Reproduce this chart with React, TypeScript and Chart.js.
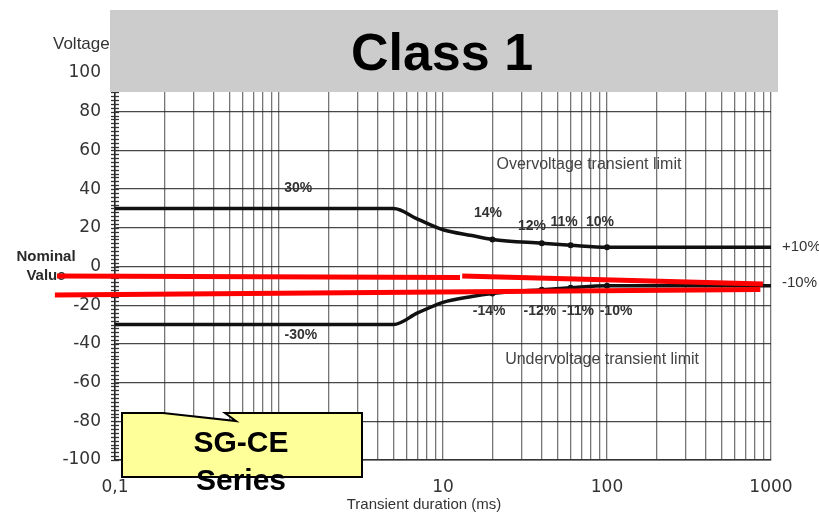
import React, { useEffect, useRef } from 'react';
import { Chart, registerables } from 'chart.js';

Chart.register(...registerables);

// ---- data ----
const durations = [0.1, 5, 7, 10, 15, 20, 40, 60, 100, 1000];
const overvoltageLimit = [30, 30, 24.5, 19, 16, 14, 12, 11, 10, 10];
const undervoltageLimit = [-30, -30, -24, -18.5, -15.5, -14, -12, -11, -10, -10];
const markedDurations = [20, 40, 60, 100];

const redUpperLeftT = [0.0443, 12.7];
const redUpperLeftV = [-4.9, -5.7];
const redUpperRightT = [13.1, 893];
const redUpperRightV = [-4.9, -9.0];
const redLowerT = [0.043, 861];
const redLowerV = [-14.7, -11.9];

const xTickValues = [
  0.1, 0.2, 0.3, 0.4, 0.5, 0.6, 0.7, 0.8, 0.9,
  1, 2, 3, 4, 5, 6, 7, 8, 9,
  10, 20, 30, 40, 50, 60, 70, 80, 90,
  100, 200, 300, 400, 500, 600, 700, 800, 900, 1000,
];
const xLabelValues = [0.1, 10, 100, 1000];
const xLabelTexts = ['0,1', '10', '100', '1000'];

const overPctTexts = ['30%', '14%', '12%', '11%', '10%'];
const overPctT = [1.31, 18.8, 34.9, 54.7, 90.6];
const overPctV = [40.6, 27.6, 20.9, 23, 23];

const underPctTexts = ['-30%', '-14%', '-12%', '-11%', '-10%'];
const underPctT = [1.36, 19.1, 39, 66.5, 113.5];
const underPctV = [-35.4, -23, -23, -23, -23];

const sideTexts = ['+10%', '-10%'];
const sideT = [1167, 1167];
const sideV = [10.1, -8.5];

const regionTexts = ['Overvoltage transient limit', 'Undervoltage transient limit'];
const regionT = [77.6, 93.3];
const regionV = [52.5, -48.3];

const SANS = "'Liberation Sans', Arial, sans-serif";
const DEJAVU = "'DejaVu Sans', sans-serif";

const overlayPlugin = {
  id: 'overlay',
  beforeDatasetsDraw(chart: any) {
    const { ctx, scales } = chart;
    const x = scales.x;
    const y = scales.y;
    ctx.save();
    // minor ticks crossing the y axis
    ctx.strokeStyle = '#333';
    ctx.lineWidth = 1.3;
    const ax = x.left;
    for (let v = -100; v <= 100; v += 2) {
      const py = Math.round(y.getPixelForValue(v)) + 0.5;
      ctx.beginPath();
      ctx.moveTo(ax - 4, py);
      ctx.lineTo(ax + 4, py);
      ctx.stroke();
    }
    // Voltage label (partly hidden by the title box)
    ctx.fillStyle = '#333';
    ctx.font = `17px ${SANS}`;
    ctx.textAlign = 'left';
    ctx.textBaseline = 'alphabetic';
    ctx.fillText('Voltage', 53, 49);
    // Nominal Value
    ctx.font = `bold 15px ${SANS}`;
    ctx.textAlign = 'center';
    ctx.fillStyle = '#2a2a2a';
    ctx.fillText('Nominal', 46, 261);
    ctx.fillText('Value', 46, 280);

    ctx.textBaseline = 'middle';
    // percentage labels
    ctx.font = `bold 14px ${SANS}`;
    ctx.fillStyle = '#333';
    overPctTexts.forEach((t, i) => {
      ctx.fillText(t, x.getPixelForValue(overPctT[i]), y.getPixelForValue(overPctV[i]));
    });
    underPctTexts.forEach((t, i) => {
      ctx.fillText(t, x.getPixelForValue(underPctT[i]), y.getPixelForValue(underPctV[i]));
    });
    // region labels
    ctx.font = `16px ${SANS}`;
    ctx.fillStyle = '#444';
    regionTexts.forEach((t, i) => {
      ctx.fillText(t, x.getPixelForValue(regionT[i]), y.getPixelForValue(regionV[i]));
    });
    // side labels
    ctx.font = `15px ${SANS}`;
    ctx.fillStyle = '#333';
    ctx.textAlign = 'left';
    sideTexts.forEach((t, i) => {
      ctx.fillText(t, x.getPixelForValue(sideT[i]), y.getPixelForValue(sideV[i]));
    });
    // x axis title
    ctx.textAlign = 'center';
    ctx.textBaseline = 'alphabetic';
    ctx.font = `15px ${SANS}`;
    ctx.fillStyle = '#333';
    ctx.fillText('Transient duration (ms)', 424, 509);
    ctx.restore();
  },
  afterDraw(chart: any) {
    const { ctx } = chart;
    ctx.save();
    // title box
    ctx.fillStyle = '#cccccc';
    ctx.fillRect(110, 10, 668, 82);
    ctx.fillStyle = '#000';
    ctx.font = `bold 52px ${SANS}`;
    ctx.textAlign = 'center';
    ctx.textBaseline = 'alphabetic';
    ctx.fillText('Class 1', 442, 70);

    // callout with a thin notch in its top edge
    ctx.beginPath();
    ctx.moveTo(122, 413);
    ctx.lineTo(163, 413);
    ctx.lineTo(236, 421);
    ctx.lineTo(225, 413);
    ctx.lineTo(362, 413);
    ctx.lineTo(362, 477);
    ctx.lineTo(122, 477);
    ctx.closePath();
    ctx.fillStyle = '#ffff99';
    ctx.fill();
    ctx.strokeStyle = '#000';
    ctx.lineWidth = 2;
    ctx.lineJoin = 'miter';
    ctx.stroke();
    ctx.fillStyle = '#000';
    ctx.font = `bold 30px ${SANS}`;
    ctx.fillText('SG-CE', 241, 452);
    ctx.fillText('Series', 241, 490);
    ctx.restore();
  },
};

export default function App() {
  const ref = useRef<HTMLCanvasElement>(null);

  useEffect(() => {
    const canvas = ref.current;
    if (!canvas) return;
    const pt = (ts: number[], vs: number[]) => ts.map((t, i) => ({ x: t, y: vs[i] }));
    const chart = new Chart(canvas, {
      type: 'line',
      data: {
        datasets: [
          {
            data: pt(redUpperLeftT, redUpperLeftV),
            borderColor: '#ff0000',
            borderWidth: 5,
            pointRadius: 0,
            clip: false,
          } as any,
          {
            data: pt(redUpperRightT, redUpperRightV),
            borderColor: '#ff0000',
            borderWidth: 5,
            pointRadius: 0,
            clip: false,
          } as any,
          {
            data: pt(redLowerT, redLowerV),
            borderColor: '#ff0000',
            borderWidth: 5,
            pointRadius: 0,
            clip: false,
          } as any,
          {
            data: pt(durations, overvoltageLimit),
            borderColor: '#111',
            borderWidth: 3.5,
            cubicInterpolationMode: 'monotone',
            pointRadius: durations.map((t) => (markedDurations.includes(t) ? 3 : 0)),
            pointBackgroundColor: '#111',
            pointBorderWidth: 0,
          } as any,
          {
            data: pt(durations, undervoltageLimit),
            borderColor: '#111',
            borderWidth: 3.5,
            cubicInterpolationMode: 'monotone',
            pointRadius: durations.map((t) => (markedDurations.includes(t) ? 3 : 0)),
            pointBackgroundColor: '#111',
            pointBorderWidth: 0,
          } as any,
        ],
      },
      options: {
        responsive: false,
        animation: false,
        devicePixelRatio: 1,
        events: [],
        layout: { padding: { left: 0, top: 73, right: 48, bottom: 0 } },
        plugins: {
          legend: { display: false },
          tooltip: { enabled: false },
          title: { display: false },
        },
        scales: {
          x: {
            type: 'logarithmic',
            min: 0.1,
            max: 1000,
            afterBuildTicks: (axis: any) => {
              axis.ticks = xTickValues.map((v) => ({ value: v }));
            },
            afterFit: (axis: any) => {
              axis.height = 54;
            },
            grid: { color: 'rgba(60,60,60,0.7)', lineWidth: 1.3, drawTicks: false },
            border: { display: true, color: '#333', width: 1.5 },
            ticks: {
              autoSkip: false,
              maxRotation: 0,
              padding: 17,
              color: '#333',
              font: { family: DEJAVU, size: 17 },
              callback: (value: any) => {
                const idx = xLabelValues.findIndex((v) => Math.abs(v - Number(value)) < 1e-9);
                return idx >= 0 ? xLabelTexts[idx] : '';
              },
            },
          },
          y: {
            type: 'linear',
            min: -100,
            max: 100,
            afterFit: (axis: any) => {
              axis.width = 115;
            },
            grid: { color: 'rgba(40,40,40,0.85)', lineWidth: 1.3, drawTicks: false },
            border: { display: true, color: '#222', width: 1.5 },
            ticks: {
              stepSize: 20,
              padding: 14,
              color: '#333',
              font: { family: DEJAVU, size: 17 },
            },
          },
        },
      } as any,
      plugins: [overlayPlugin],
    });
    return () => chart.destroy();
  }, []);

  return (
    <div style={{ position: 'absolute', left: 0, top: 0, width: 819, height: 514, background: '#fff' }}>
      <canvas ref={ref} width={819} height={514} style={{ width: 819, height: 514, display: 'block' }} />
    </div>
  );
}
